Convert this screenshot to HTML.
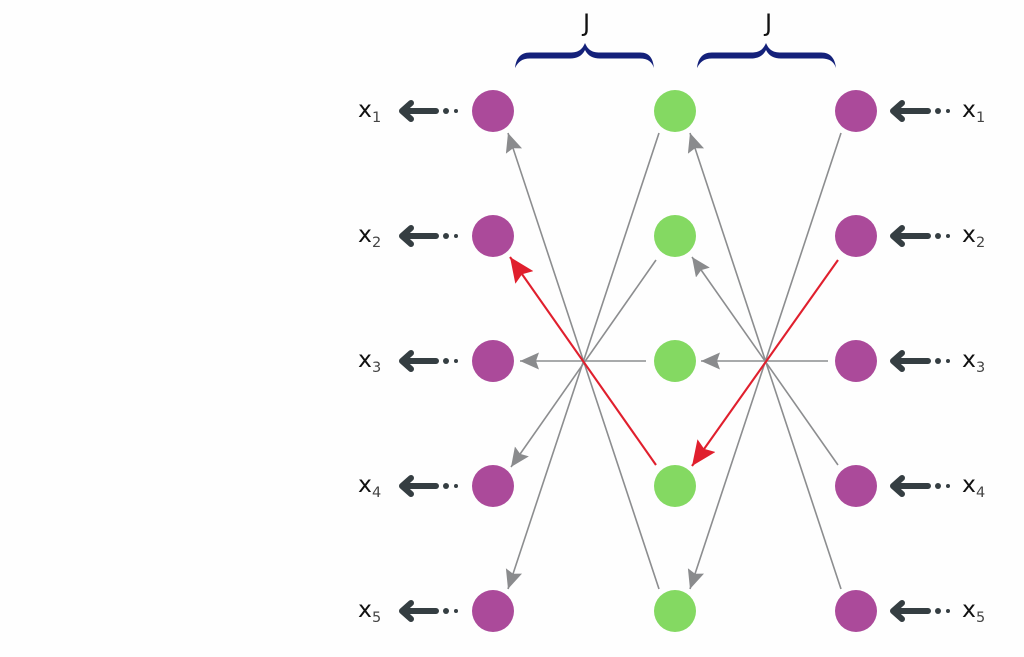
<!DOCTYPE html>
<html>
<head>
<meta charset="utf-8">
<style>
html,body{margin:0;padding:0;background:#fefefe;}
svg{display:block;}
text{font-family:"DejaVu Sans",sans-serif;fill:#111;}
.x{font-size:23.5px;}
.s{font-size:14.5px;fill:#444;}
.g{stroke:#8c8d8f;stroke-width:1.6;fill:none;}
.r{stroke:#e01f2d;stroke-width:2.1;fill:none;}
.sa{stroke:#353e42;stroke-width:6;fill:none;stroke-linecap:round;stroke-linejoin:round;}
.d{fill:#353e42;}
.p{fill:#ab4a9a;}
.n{fill:#84d962;}
.b{fill:#14217a;}
</style>
</head>
<body>
<svg width="1024" height="657" viewBox="0 0 1024 657" xmlns="http://www.w3.org/2000/svg">
<defs>
<marker id="mg" markerUnits="userSpaceOnUse" markerWidth="24" markerHeight="20" refX="19" refY="8.5" orient="auto">
<path d="M0 0 L19 8.5 L0 17 L3 8.5 Z" fill="#8a8b8d"/>
</marker>
<marker id="mr" markerUnits="userSpaceOnUse" markerWidth="28" markerHeight="24" refX="25" refY="11" orient="auto">
<path d="M0 0 L25 11 L0 22 L4 11 Z" fill="#e01f2d"/>
</marker>
</defs>

<path class="b" d="M515 68 C516 59 520 52.5 530 52.5 L570 52.5 C578 52.5 582 50 585 43 C588 50 592 52.5 600 52.5 L640 52.5 C650 52.5 653 59 654 68 C652 62 648 58.5 640 58.5 L600 58.5 C593 58.5 588 56 585 50 C582 56 577 58.5 570 58.5 L530 58.5 C522 58.5 518 62 515 68 Z"/>
<path class="b" d="M697 68 C698 59 702 52.5 712 52.5 L751 52.5 C759 52.5 763 50 766 43 C769 50 773 52.5 781 52.5 L821 52.5 C831 52.5 835 59 836 68 C834 62 830 58.5 821 58.5 L781 58.5 C774 58.5 769 56 766 50 C763 56 758 58.5 751 58.5 L712 58.5 C704 58.5 700 62 697 68 Z"/>
<text x="583" y="31" style="font-size:24px">J</text>
<text x="765" y="31" style="font-size:24px">J</text>

<line class="g" x1="659" y1="133" x2="508" y2="589" marker-end="url(#mg)"/>
<line class="g" x1="656" y1="260" x2="511" y2="467" marker-end="url(#mg)"/>
<line class="g" x1="646" y1="361" x2="520" y2="361" marker-end="url(#mg)"/>
<line class="g" x1="659" y1="589" x2="508" y2="133" marker-end="url(#mg)"/>
<line class="r" x1="656" y1="465" x2="510" y2="257" marker-end="url(#mr)"/>

<line class="g" x1="841" y1="133" x2="690" y2="589" marker-end="url(#mg)"/>
<line class="g" x1="828" y1="361" x2="701" y2="361" marker-end="url(#mg)"/>
<line class="g" x1="838" y1="465" x2="692" y2="257" marker-end="url(#mg)"/>
<line class="g" x1="841" y1="589" x2="690" y2="133" marker-end="url(#mg)"/>
<line class="r" x1="838" y1="260" x2="692" y2="466" marker-end="url(#mr)"/>

<circle class="p" cx="493" cy="111" r="21"/><circle class="p" cx="493" cy="236" r="21"/><circle class="p" cx="493" cy="361" r="21"/><circle class="p" cx="493" cy="486" r="21"/><circle class="p" cx="493" cy="611" r="21"/>
<circle class="n" cx="675" cy="111" r="21"/><circle class="n" cx="675" cy="236" r="21"/><circle class="n" cx="675" cy="361" r="21"/><circle class="n" cx="675" cy="486" r="21"/><circle class="n" cx="675" cy="611" r="21"/>
<circle class="p" cx="856" cy="111" r="21"/><circle class="p" cx="856" cy="236" r="21"/><circle class="p" cx="856" cy="361" r="21"/><circle class="p" cx="856" cy="486" r="21"/><circle class="p" cx="856" cy="611" r="21"/>

<path class="sa" d="M436 111 H402 M411 103 L402 111 L411 119"/><circle class="d" cx="446" cy="111" r="3"/><circle class="d" cx="456" cy="111" r="2"/>
<path class="sa" d="M436 236 H402 M411 228 L402 236 L411 244"/><circle class="d" cx="446" cy="236" r="3"/><circle class="d" cx="456" cy="236" r="2"/>
<path class="sa" d="M436 361 H402 M411 353 L402 361 L411 369"/><circle class="d" cx="446" cy="361" r="3"/><circle class="d" cx="456" cy="361" r="2"/>
<path class="sa" d="M436 486 H402 M411 478 L402 486 L411 494"/><circle class="d" cx="446" cy="486" r="3"/><circle class="d" cx="456" cy="486" r="2"/>
<path class="sa" d="M436 611 H402 M411 603 L402 611 L411 619"/><circle class="d" cx="446" cy="611" r="3"/><circle class="d" cx="456" cy="611" r="2"/>

<path class="sa" d="M928 111 H893 M902 103 L893 111 L902 119"/><circle class="d" cx="938" cy="111" r="3"/><circle class="d" cx="948" cy="111" r="2"/>
<path class="sa" d="M928 236 H893 M902 228 L893 236 L902 244"/><circle class="d" cx="938" cy="236" r="3"/><circle class="d" cx="948" cy="236" r="2"/>
<path class="sa" d="M928 361 H893 M902 353 L893 361 L902 369"/><circle class="d" cx="938" cy="361" r="3"/><circle class="d" cx="948" cy="361" r="2"/>
<path class="sa" d="M928 486 H893 M902 478 L893 486 L902 494"/><circle class="d" cx="938" cy="486" r="3"/><circle class="d" cx="948" cy="486" r="2"/>
<path class="sa" d="M928 611 H893 M902 603 L893 611 L902 619"/><circle class="d" cx="938" cy="611" r="3"/><circle class="d" cx="948" cy="611" r="2"/>

<text class="x" x="358" y="117">x</text><text class="s" x="372" y="122">1</text>
<text class="x" x="358" y="242">x</text><text class="s" x="372" y="247">2</text>
<text class="x" x="358" y="367">x</text><text class="s" x="372" y="372">3</text>
<text class="x" x="358" y="492">x</text><text class="s" x="372" y="497">4</text>
<text class="x" x="358" y="617">x</text><text class="s" x="372" y="622">5</text>

<text class="x" x="962" y="117">x</text><text class="s" x="976" y="122">1</text>
<text class="x" x="962" y="242">x</text><text class="s" x="976" y="247">2</text>
<text class="x" x="962" y="367">x</text><text class="s" x="976" y="372">3</text>
<text class="x" x="962" y="492">x</text><text class="s" x="976" y="497">4</text>
<text class="x" x="962" y="617">x</text><text class="s" x="976" y="622">5</text>
</svg>
</body>
</html>
